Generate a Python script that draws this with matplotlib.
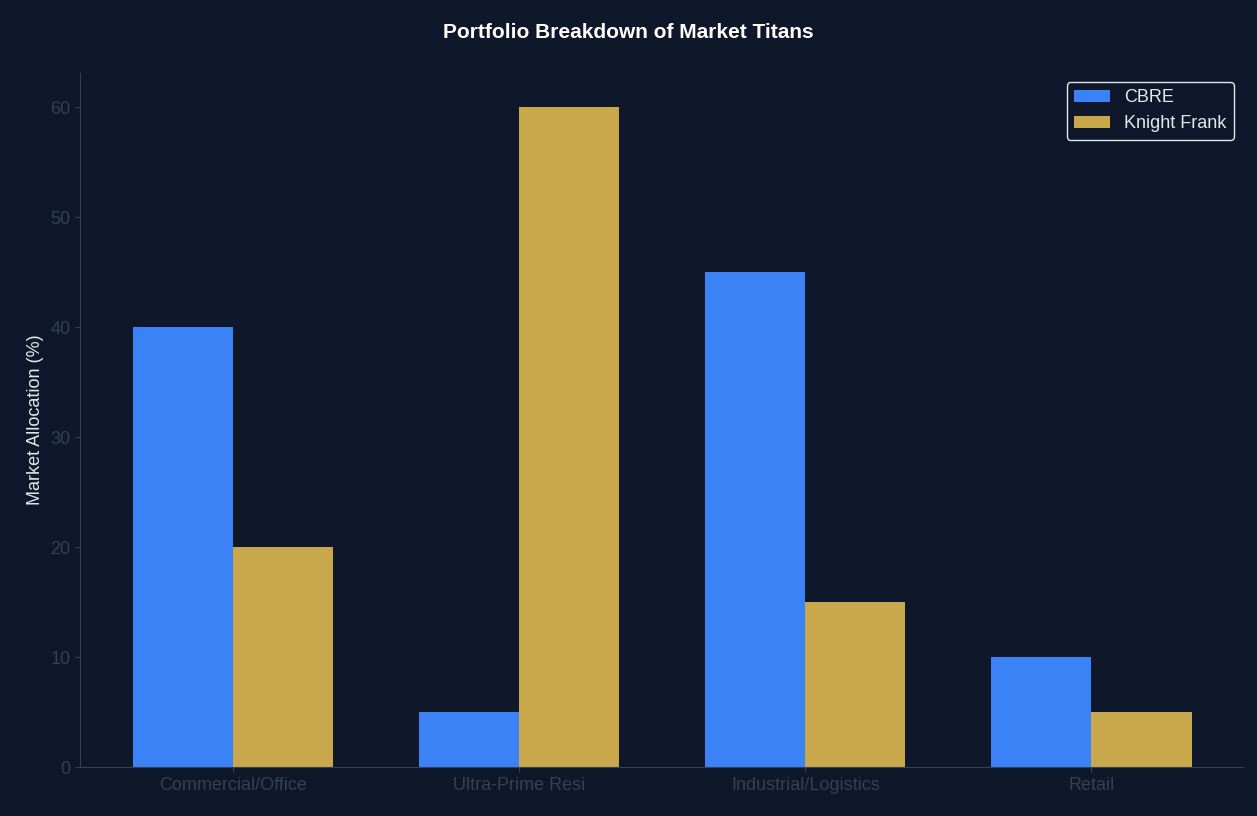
import matplotlib.pyplot as plt
import numpy as np

categories = ['Commercial/Office', 'Ultra-Prime Resi', 'Industrial/Logistics', 'Retail']
cbre = [40, 5, 45, 10]
knight_frank = [20, 60, 15, 5]

bg = '#0f172a'
text_color = '#e2e8f0'
spine_color = '#334155'

plt.rcParams['font.family'] = ['Arial', 'Liberation Sans', 'DejaVu Sans']

fig = plt.figure(figsize=(12.57, 8.16), dpi=100, facecolor=bg)
ax = fig.add_axes([80 / 1257, 49 / 816, 1163 / 1257, 694 / 816], facecolor=bg)

x = np.arange(len(categories))
w = 0.35
ax.bar(x - w / 2, cbre, w, color='#3b82f6', label='CBRE')
ax.bar(x + w / 2, knight_frank, w, color='#c9a84c', label='Knight Frank')

ax.set_xlim(-0.535, 3.53)
ax.set_ylim(0, 63.1)
ax.set_xticks(x)
ax.set_xticklabels(categories, fontsize=13, color=text_color)
ax.tick_params(axis='y', labelsize=13, labelcolor=text_color)
ax.tick_params(colors=spine_color)
ax.set_ylabel('Market Allocation (%)', fontsize=13, color=text_color)
for s in ['top', 'right']:
    ax.spines[s].set_visible(False)
for s in ['left', 'bottom']:
    ax.spines[s].set_color(spine_color)

fig.suptitle('Portfolio Breakdown of Market Titans', fontsize=15, fontweight='bold',
             color='white', y=0.972)

leg = ax.legend(loc='upper right', fontsize=13, facecolor=bg, edgecolor=text_color,
                labelcolor=text_color, framealpha=1)

fig.savefig('out.png', dpi=100, facecolor=bg)
